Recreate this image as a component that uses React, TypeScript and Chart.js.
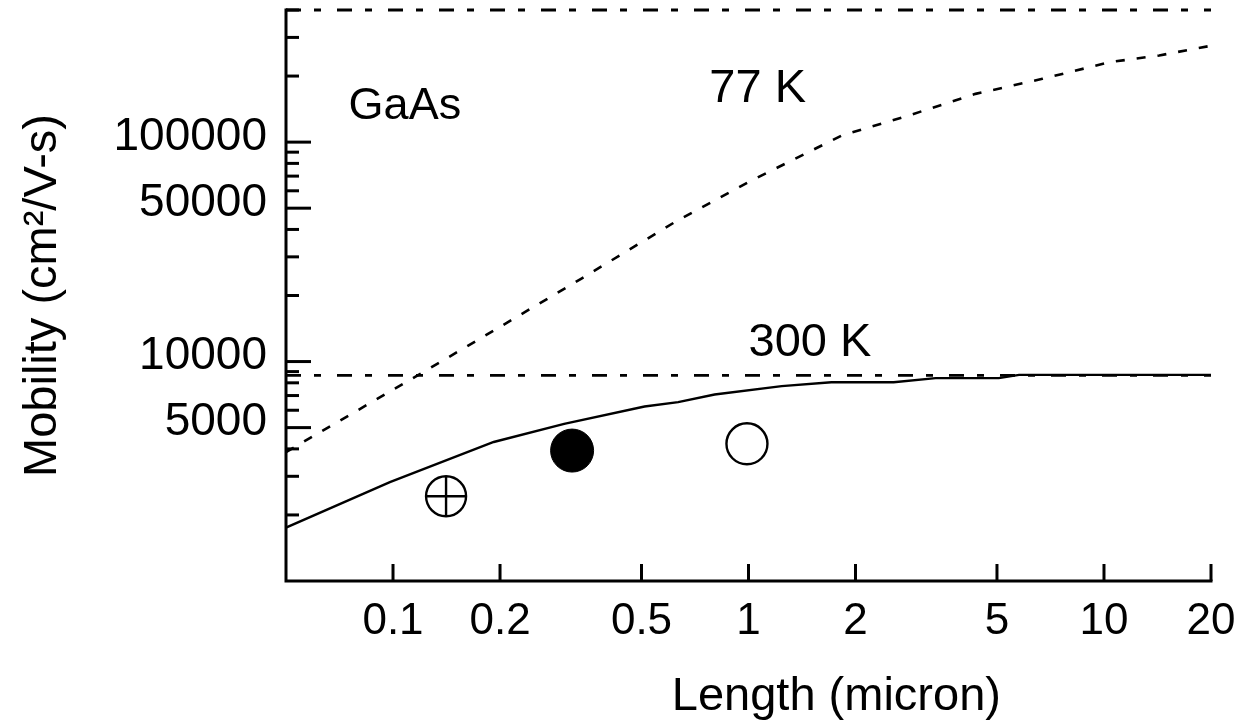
import React, { useEffect, useRef } from 'react';
import { Chart, registerables } from 'chart.js';

Chart.register(...registerables);

const FONT = '"Liberation Sans", Arial, Helvetica, sans-serif';

// Tick values
const xTicks = [0.1, 0.2, 0.5, 1, 2, 5, 10, 20];
const yMajorTicks = [5000, 10000, 50000, 100000];
const yMinorTicks = [2000, 3000, 4000, 6000, 7000, 8000, 9000, 20000, 30000, 40000, 60000, 70000, 80000, 90000, 200000, 300000, 400000];

// 300 K simulated mobility vs length
const length300K = [0.05, 0.098, 0.192, 0.303, 0.51, 0.634, 0.803, 1.24, 1.71, 2.56, 3.36, 5.06, 5.77, 20];
const mobility300K = [1750, 2820, 4300, 5200, 6240, 6530, 7080, 7730, 8050, 8050, 8400, 8400, 8700, 8700];

// 77 K simulated mobility vs length
const length77K = [0.05, 0.117, 0.192, 0.338, 0.62, 1.0, 1.83, 2.82, 4.35, 6.71, 10.4, 14.3, 20];
const mobility77K = [3870, 8630, 13840, 23830, 43170, 65800, 107200, 132200, 165900, 194300, 231500, 248300, 274900];

// Bulk limits
const limitLength = [0.05, 20];
const limit300K = [8650, 8650];
const limit77K = [400000, 400000];

// Experimental points
const exptLength = [0.141, 0.319, 0.99];
const exptMobility = [2435, 3930, 4220];

// Text annotations (data coordinates)
const annotationText = ['GaAs', '77 K', '300 K'];
const annotationX = [0.075, 0.776, 1.0];
const annotationY = [128000, 153000, 10600];

const pts = (xs: number[], ys: number[]) => xs.map((x, i) => ({ x, y: ys[i] }));

const axesPlugin = {
  id: 'axesTicks',
  afterDraw(chart: any) {
    const { ctx, chartArea: a, scales } = chart;
    const xs = scales.x;
    const ys = scales.y;
    ctx.save();
    ctx.strokeStyle = '#000';
    ctx.lineWidth = 3;
    ctx.lineCap = 'square';
    ctx.beginPath();
    ctx.moveTo(a.left, a.top);
    ctx.lineTo(a.left, a.bottom);
    ctx.lineTo(a.right, a.bottom);
    ctx.stroke();
    ctx.lineCap = 'butt';
    const seg = (x1: number, y1: number, x2: number, y2: number) => {
      ctx.beginPath();
      ctx.moveTo(x1, y1);
      ctx.lineTo(x2, y2);
      ctx.stroke();
    };
    for (const v of yMajorTicks) {
      const p = ys.getPixelForValue(v);
      seg(a.left, p, a.left + 25, p);
    }
    for (const v of yMinorTicks) {
      const p = ys.getPixelForValue(v);
      seg(a.left, p, a.left + 13, p);
    }
    for (const v of xTicks) {
      const p = xs.getPixelForValue(v);
      seg(p, a.bottom, p, a.bottom - 17);
    }
    ctx.fillStyle = '#000';
    ctx.textAlign = 'left';
    ctx.textBaseline = 'alphabetic';
    annotationText.forEach((t, i) => {
      ctx.font = `${i === 0 ? 45 : 47}px ${FONT}`;
      ctx.fillText(t, xs.getPixelForValue(annotationX[i]), ys.getPixelForValue(annotationY[i]));
    });
    ctx.font = `47px ${FONT}`;
    ctx.textAlign = 'center';
    ctx.fillText('Length (micron)', a.left + (a.right - a.left) * 0.595, 710);
    ctx.restore();
  },
};

export default function App() {
  const ref = useRef<HTMLCanvasElement>(null);
  useEffect(() => {
    const canvas = ref.current!;
    const chart = new Chart(canvas, {
      type: 'scatter',
      data: {
        datasets: [
          {
            label: 'cross',
            data: [{ x: exptLength[0], y: exptMobility[0] }],
            pointStyle: 'cross',
            pointRadius: 20,
            pointBorderColor: '#000',
            pointBorderWidth: 2.4,
            showLine: false,
          },
          {
            label: 'crossed circle',
            data: [{ x: exptLength[0], y: exptMobility[0] }],
            pointStyle: 'circle',
            pointRadius: 20,
            pointBackgroundColor: '#fff',
            pointBorderColor: '#000',
            pointBorderWidth: 2.4,
            showLine: false,
          },
          {
            label: 'filled',
            data: [{ x: exptLength[1], y: exptMobility[1] }],
            pointStyle: 'circle',
            pointRadius: 21.5,
            pointBackgroundColor: '#000',
            pointBorderColor: '#000',
            pointBorderWidth: 1,
            showLine: false,
          },
          {
            label: 'open',
            data: [{ x: exptLength[2], y: exptMobility[2] }],
            pointStyle: 'circle',
            pointRadius: 20.5,
            pointBackgroundColor: '#fff',
            pointBorderColor: '#000',
            pointBorderWidth: 2.4,
            showLine: false,
          },
          {
            label: '300 K',
            data: pts(length300K, mobility300K),
            showLine: true,
            pointRadius: 0,
            borderColor: '#000',
            borderWidth: 2.4,
            tension: 0,
          },
          {
            label: '77 K',
            data: pts(length77K, mobility77K),
            showLine: true,
            pointRadius: 0,
            borderColor: '#000',
            borderWidth: 2.6,
            borderDash: [9, 12],
            tension: 0,
          },
          {
            label: '300 K limit',
            data: pts(limitLength, limit300K),
            showLine: true,
            pointRadius: 0,
            borderColor: '#000',
            borderWidth: 2.8,
            borderDash: [15, 13, 7, 16],
          },
          {
            label: '77 K limit',
            data: pts(limitLength, limit77K),
            showLine: true,
            pointRadius: 0,
            borderColor: '#000',
            borderWidth: 2.8,
            borderDash: [15, 13, 7, 16],
            clip: false,
          } as any,
        ],
      },
      options: {
        responsive: false,
        animation: false,
        events: [],
        layout: { autoPadding: false, padding: { top: 10, right: 36, left: 0, bottom: 0 } },
        plugins: { legend: { display: false }, tooltip: { enabled: false } },
        scales: {
          x: {
            type: 'logarithmic',
            min: 0.05,
            max: 20,
            afterBuildTicks: (s: any) => {
              s.ticks = xTicks.map((v) => ({ value: v }));
            },
            afterFit: (s: any) => {
              s.height = 141;
              s.paddingLeft = 0;
              s.paddingRight = 0;
            },
            grid: { display: false, drawTicks: false },
            border: { display: false },
            ticks: {
              callback: (v: any) => String(v),
              color: '#000',
              font: { family: FONT, size: 44 },
              padding: 14,
              maxRotation: 0,
              autoSkip: false,
            },
            title: { display: false },
          },
          y: {
            type: 'logarithmic',
            min: 1000,
            max: 400000,
            afterBuildTicks: (s: any) => {
              s.ticks = yMajorTicks.map((v) => ({ value: v }));
            },
            afterFit: (s: any) => {
              s.width = 286;
              s.paddingTop = 0;
              s.paddingBottom = 0;
            },
            grid: { display: false, drawTicks: false },
            border: { display: false },
            ticks: {
              callback: (v: any) => String(v),
              color: '#000',
              font: { family: FONT, size: 46 },
              padding: 19,
              labelOffset: -5,
              autoSkip: false,
            },
            title: {
              display: true,
              text: 'Mobility (cm²/V-s)',
              color: '#000',
              font: { family: FONT, size: 47 },
              padding: { top: 15, bottom: 0 },
            },
          },
        },
      },
      plugins: [axesPlugin],
    } as any);
    return () => chart.destroy();
  }, []);
  return (
    <div style={{ position: 'fixed', left: 0, top: 0, width: 1247, height: 722, background: '#fff' }}>
      <canvas ref={ref} width={1247} height={722} style={{ display: 'block' }} />
    </div>
  );
}
